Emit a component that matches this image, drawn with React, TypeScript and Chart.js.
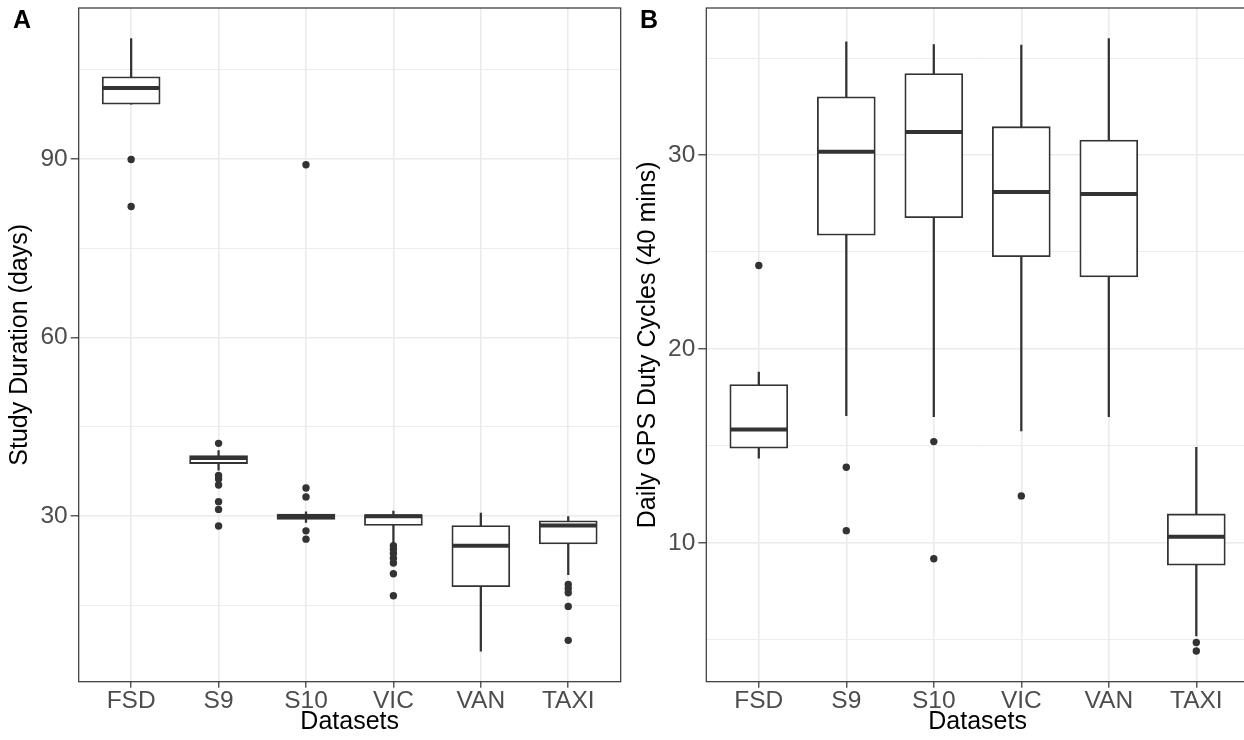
import React, { useEffect, useRef } from 'react';
import { Chart, registerables } from 'chart.js';

Chart.register(...registerables);

// ---------- data ----------
const categories = ['FSD', 'S9', 'S10', 'VIC', 'VAN', 'TAXI'];

// Panel A: Study Duration (days)
const durWhiskerLow = [99.2, 37.7, 28.9, 25.5, 7.3, 20.15];
const durQ1 = [99.2, 38.8, 29.4, 28.4, 18.1, 25.3];
const durMedian = [101.9, 39.75, 30.0, 29.95, 25.0, 28.4];
const durQ3 = [103.8, 40.15, 30.3, 30.25, 28.4, 29.2];
const durWhiskerHigh = [110.2, 41.0, 30.7, 30.8, 30.5, 29.9];
const durOutliers = [
  [89.9, 82.0],
  [42.2, 36.8, 36.2, 35.2, 32.4, 31.1, 28.3],
  [89.0, 34.7, 33.2, 27.5, 26.1],
  [25.0, 24.4, 23.7, 22.9, 22.1, 20.3, 16.6],
  [],
  [18.5, 17.8, 17.1, 14.8, 9.1],
];
const durGridTicks = [15, 30, 45, 60, 75, 90, 105];
const durLabelTicks = [30, 60, 90];

// Panel B: Daily GPS Duty Cycles (40 mins)
const dutyWhiskerLow = [14.37, 16.56, 16.51, 15.77, 16.51, 5.2];
const dutyQ1 = [14.88, 25.86, 26.77, 24.76, 23.71, 8.85];
const dutyMedian = [15.84, 30.17, 31.19, 28.09, 27.99, 10.31];
const dutyQ3 = [18.16, 33.0, 34.2, 31.46, 30.77, 11.49];
const dutyWhiskerHigh = [18.8, 35.84, 35.7, 35.67, 36.0, 14.93];
const dutyOutliers = [
  [24.3],
  [13.9, 10.63],
  [15.22, 9.18],
  [12.42],
  [],
  [4.86, 4.42],
];
const dutyGridTicks = [5, 10, 15, 20, 25, 30, 35];
const dutyLabelTicks = [10, 20, 30];

// ---------- styling ----------
const FONT = '"Liberation Sans", Arial, Helvetica, sans-serif';
const INK = '#333333';
const GRID = '#EBEBEB';

type Panel = {
  wLow: number[];
  q1: number[];
  median: number[];
  q3: number[];
  wHigh: number[];
  outliers: number[][];
  yMin: number;
  yMax: number;
  gridTicks: number[];
  labelTicks: number[];
  yTitle: string;
  yAxisWidth: number;
  yTitlePad: number;
  rightPad: number;
};

const panelBorder = {
  id: 'panelBorder',
  afterDatasetsDraw(chart: any) {
    const { ctx, chartArea: a } = chart;
    ctx.save();
    ctx.strokeStyle = INK;
    ctx.lineWidth = 1.2;
    ctx.strokeRect(a.left, a.top, a.right - a.left, a.bottom - a.top);
    ctx.restore();
  },
};

const zeroPad = (s: any) => {
  s.paddingTop = 0;
  s.paddingBottom = 0;
  s.paddingLeft = 0;
  s.paddingRight = 0;
};

function makeChart(canvas: HTMLCanvasElement, p: Panel) {
  const idx = categories.map((_, i) => i);
  const whiskerData = idx.map((i) => ({ x: i, y: [p.wLow[i], p.wHigh[i]] }));
  const boxData = idx.map((i) => ({ x: i, y: [p.q1[i], p.q3[i]] }));
  const medianData = idx.map((i) => ({ x: i, y: p.median[i] }));
  const outlierData = p.outliers.flatMap((vals, i) => vals.map((v) => ({ x: i, y: v })));
  const isMajor = (c: any) => !!c.tick && p.labelTicks.includes(c.tick.value);

  return new Chart(canvas, {
    type: 'bar',
    data: {
      datasets: [
        {
          type: 'scatter',
          data: outlierData as any,
          order: 1,
          pointStyle: 'circle',
          pointRadius: 3.7,
          pointHoverRadius: 3.7,
          pointBackgroundColor: INK,
          pointBorderColor: INK,
          pointBorderWidth: 0,
        } as any,
        {
          type: 'scatter',
          data: medianData as any,
          order: 2,
          pointStyle: 'line',
          pointRadius: 28.5,
          pointHoverRadius: 28.5,
          pointBorderColor: INK,
          pointBorderWidth: 4,
          pointHoverBorderWidth: 4,
        } as any,
        {
          type: 'bar',
          data: boxData as any,
          order: 3,
          grouped: false,
          categoryPercentage: 1,
          barPercentage: 1,
          maxBarThickness: 58,
          backgroundColor: '#FFFFFF',
          borderColor: INK,
          borderWidth: 1.8,
          borderSkipped: false,
        } as any,
        {
          type: 'bar',
          data: whiskerData as any,
          order: 4,
          grouped: false,
          categoryPercentage: 1,
          barPercentage: 1,
          maxBarThickness: 1.6,
          backgroundColor: INK,
          borderWidth: 0,
        } as any,
      ],
    },
    options: {
      animation: false,
      responsive: false,
      devicePixelRatio: 1,
      layout: { autoPadding: false, padding: { left: 0, top: 8, right: p.rightPad, bottom: 0 } },
      plugins: { legend: { display: false }, tooltip: { enabled: false } },
      scales: {
        x: {
          type: 'linear',
          min: -0.6,
          max: 5.6,
          offset: false,
          afterBuildTicks: (s: any) => {
            s.ticks = idx.map((v) => ({ value: v }));
          },
          afterFit: (s: any) => {
            s.height = 58.3;
            zeroPad(s);
          },
          ticks: {
            autoSkip: false,
            maxRotation: 0,
            color: '#4D4D4D',
            font: { family: FONT, size: 24.5, lineHeight: 1 },
            padding: 1,
            callback: (v: any) => categories[v] ?? '',
          },
          grid: {
            offset: false,
            color: GRID,
            lineWidth: 1.6,
            drawTicks: true,
            tickLength: 6,
            tickColor: INK,
            tickWidth: 1.2,
          },
          border: { display: false },
          title: {
            display: true,
            text: 'Datasets',
            color: '#000000',
            font: { family: FONT, size: 25 },
            padding: { top: 0, bottom: 3 },
          },
        },
        y: {
          type: 'linear',
          min: p.yMin,
          max: p.yMax,
          afterBuildTicks: (s: any) => {
            s.ticks = p.gridTicks.map((v) => ({ value: v }));
          },
          afterFit: (s: any) => {
            s.width = p.yAxisWidth;
            zeroPad(s);
          },
          ticks: {
            autoSkip: false,
            color: '#4D4D4D',
            font: { family: FONT, size: 24.5 },
            padding: 3,
            callback: (v: any) => (p.labelTicks.includes(v) ? String(v) : ''),
          },
          grid: {
            offset: false,
            color: GRID,
            lineWidth: (c: any) => (isMajor(c) ? 1.6 : 0.9),
            drawTicks: true,
            tickLength: 8,
            tickColor: (c: any) => (isMajor(c) ? INK : 'rgba(0,0,0,0)'),
            tickWidth: 1.2,
          },
          border: { display: false },
          title: {
            display: true,
            text: p.yTitle,
            color: '#000000',
            font: { family: FONT, size: 25 },
            padding: { top: p.yTitlePad, bottom: 0 },
          },
        },
      },
    } as any,
    plugins: [panelBorder],
  });
}

const panelA: Panel = {
  wLow: durWhiskerLow,
  q1: durQ1,
  median: durMedian,
  q3: durQ3,
  wHigh: durWhiskerHigh,
  outliers: durOutliers,
  yMin: 2.15,
  yMax: 115.35,
  gridTicks: durGridTicks,
  labelTicks: durLabelTicks,
  yTitle: 'Study Duration (days)',
  yAxisWidth: 78.7,
  yTitlePad: 5.1,
  rightPad: 1.3,
};

const panelB: Panel = {
  wLow: dutyWhiskerLow,
  q1: dutyQ1,
  median: dutyMedian,
  q3: dutyQ3,
  wHigh: dutyWhiskerHigh,
  outliers: dutyOutliers,
  yMin: 2.84,
  yMax: 37.58,
  gridTicks: dutyGridTicks,
  labelTicks: dutyLabelTicks,
  yTitle: 'Daily GPS Duty Cycles (40 mins)',
  yAxisWidth: 84.3,
  yTitlePad: 11.5,
  rightPad: 3.2,
};

function PanelCanvas({ panel, left, width }: { panel: Panel; left: number; width: number }) {
  const ref = useRef<HTMLCanvasElement | null>(null);
  useEffect(() => {
    if (!ref.current) return;
    const chart = makeChart(ref.current, panel);
    return () => chart.destroy();
  }, [panel]);
  return (
    <canvas
      ref={ref}
      width={width}
      height={740}
      style={{ position: 'absolute', left, top: 0, width, height: 740 }}
    />
  );
}

const tagStyle: React.CSSProperties = {
  position: 'absolute',
  top: 7,
  fontFamily: FONT,
  fontWeight: 'bold',
  fontSize: 25,
  lineHeight: '25px',
  color: '#000',
};

export default function App() {
  return (
    <div
      style={{
        position: 'fixed',
        left: 0,
        top: 0,
        width: 1244,
        height: 740,
        overflow: 'hidden',
        background: '#FFFFFF',
      }}
    >
      <PanelCanvas panel={panelA} left={0} width={622} />
      <PanelCanvas panel={panelB} left={622} width={630} />
      <div style={{ ...tagStyle, left: 13 }}>A</div>
      <div style={{ ...tagStyle, left: 640 }}>B</div>
    </div>
  );
}
